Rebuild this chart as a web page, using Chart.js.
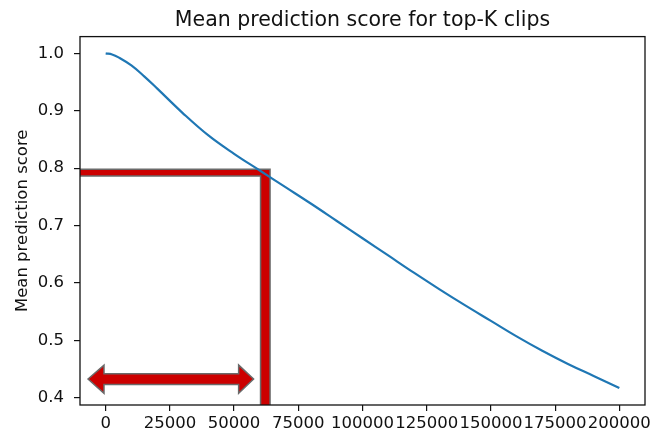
<!DOCTYPE html>
<html>
<head>
<meta charset="utf-8">
<script src="https://cdn.jsdelivr.net/npm/chart.js@4.4.1/dist/chart.umd.min.js"></script>
<style>
  html, body { margin: 0; padding: 0; background: #fff; }
  #wrap { width: 650px; height: 434px; }
</style>
</head>
<body>
<div id="wrap"><canvas id="chart" width="650" height="434"></canvas></div>
<script>
// K (number of top clips) and the mean prediction score over those clips
const topK = [0, 2500, 5000, 10000, 15000, 20000, 30000, 40000, 50000, 60000, 70000, 80000,
              90000, 100000, 110000, 120000, 130000, 140000, 150000, 160000, 170000,
              180000, 190000, 200000];
const meanScore = [1.000, 0.998, 0.993, 0.979, 0.960, 0.939, 0.896, 0.857, 0.825, 0.796, 0.767, 0.738,
                   0.708, 0.678, 0.648, 0.618, 0.589, 0.561, 0.534, 0.507, 0.482,
                   0.459, 0.438, 0.417];

const xTicks = [0, 25000, 50000, 75000, 100000, 125000, 150000, 175000, 200000];
const yTicks = [0.4, 0.5, 0.6, 0.7, 0.8, 0.9, 1.0];

// Cut-off marker (L shape): K ≈ 60000 where the mean score falls to ≈ 0.79
const cutoffX = [-15000, 64000, 64000, 60300, 60300, -15000];
const cutoffY = [0.798, 0.798, 0.35, 0.35, 0.7866, 0.7866];

// Double-headed arrow spanning the selected range of K
const arrowX = [-6870, -660, -660, 51770, 51770, 57590, 51770, 51770, -660, -660];
const arrowY = [0.4327, 0.457, 0.442, 0.442, 0.457, 0.4327, 0.408, 0.423, 0.423, 0.408];

const FONT = "'DejaVu Sans', sans-serif";

const overlays = {
  id: 'overlays',
  beforeDatasetsDraw(chart) {
    const { ctx, chartArea: a, scales: { x, y } } = chart;
    ctx.save();
    ctx.beginPath();
    ctx.rect(a.left, a.top, a.right - a.left, a.bottom - a.top);
    ctx.clip();
    [[cutoffX, cutoffY], [arrowX, arrowY]].forEach(([xs, ys]) => {
      ctx.beginPath();
      xs.forEach((vx, i) => {
        const px = x.getPixelForValue(vx);
        const py = y.getPixelForValue(ys[i]);
        if (i === 0) ctx.moveTo(px, py); else ctx.lineTo(px, py);
      });
      ctx.closePath();
      ctx.fillStyle = '#cc0000';
      ctx.fill();
      ctx.lineWidth = 1.5;
      ctx.lineJoin = 'miter';
      ctx.strokeStyle = '#6a6a6a';
      ctx.stroke();
    });
    ctx.restore();
  },
  afterDraw(chart) {
    const { ctx, chartArea: a } = chart;
    ctx.save();
    ctx.lineWidth = 1.3;
    ctx.strokeStyle = '#111';
    ctx.strokeRect(a.left, a.top, a.right - a.left, a.bottom - a.top);
    ctx.restore();
  }
};

new Chart(document.getElementById('chart'), {
  type: 'line',
  data: {
    datasets: [{
      data: topK.map((k, i) => ({ x: k, y: meanScore[i] })),
      borderColor: '#1f77b4',
      borderWidth: 2.2,
      pointRadius: 0,
      fill: false,
      tension: 0.4
    }]
  },
  options: {
    responsive: false,
    animation: false,
    devicePixelRatio: 1,
    layout: { padding: { left: 0, right: 5, top: 0, bottom: 0 } },
    plugins: {
      legend: { display: false },
      tooltip: { enabled: false },
      title: {
        display: true,
        fullSize: false,
        text: 'Mean prediction score for top-K clips',
        color: '#111',
        font: { family: FONT, size: 20.5, weight: 'normal' },
        padding: { top: 8, bottom: 4 }
      }
    },
    scales: {
      x: {
        type: 'linear',
        min: -10000,
        max: 210000,
        afterBuildTicks: s => { s.ticks = xTicks.map(v => ({ value: v })); },
        afterFit: s => { s.height = 29; s.paddingLeft = 0; s.paddingRight = 0; },
        grid: { drawOnChartArea: false, drawTicks: true, tickLength: 6, color: '#111', lineWidth: 1.2 },
        border: { display: false },
        ticks: {
          autoSkip: false,
          maxRotation: 0,
          minRotation: 0,
          padding: 3,
          color: '#111',
          font: { family: FONT, size: 16.5 },
          callback: v => String(v)
        }
      },
      y: {
        type: 'linear',
        min: 0.3875,
        max: 1.0292,
        afterBuildTicks: s => { s.ticks = yTicks.map(v => ({ value: v })); },
        afterFit: s => { s.width = 80; s.paddingTop = 0; s.paddingBottom = 0; },
        grid: { drawOnChartArea: false, drawTicks: true, tickLength: 6, color: '#111', lineWidth: 1.2 },
        border: { display: false },
        title: {
          display: true,
          text: 'Mean prediction score',
          color: '#111',
          font: { family: FONT, size: 16.5 },
          padding: { top: 12.6, bottom: 0 }
        },
        ticks: {
          padding: 10,
          color: '#111',
          font: { family: FONT, size: 16.5 },
          callback: v => Number(v).toFixed(1)
        }
      }
    }
  },
  plugins: [overlays]
});
</script>
</body>
</html>
